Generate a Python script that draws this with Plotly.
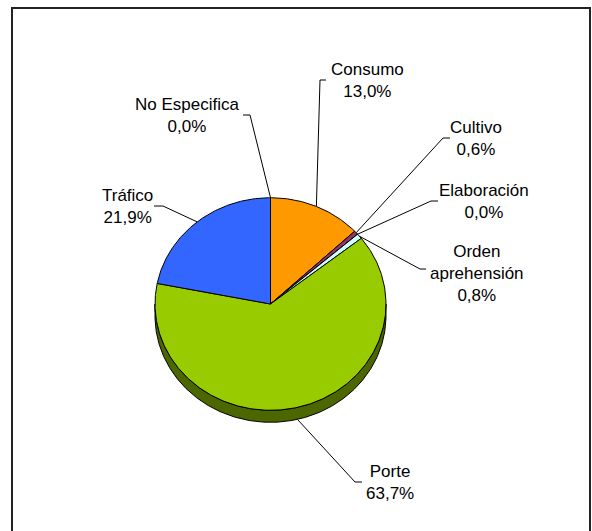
import numpy as np
import plotly.graph_objects as go

# ---------------- data ----------------
categories = ["Consumo", "Cultivo", "Elaboración", "Orden aprehensión",
              "Porte", "Tráfico", "No Especifica"]
values = [13.0, 0.6, 0.0, 0.8, 63.7, 21.9, 0.0]
colors = ["#FF9900", "#993366", "#FFFFCC", "#CCFFFF",
          "#99CC00", "#3366FF", "#FF99CC"]

# ---------------- layout (positions / styles) ----------------
W, H = 592, 531
CX, CY, RX, RY, DEPTH = 270.5, 304.0, 115.5, 106.3, 12
FONT = dict(family="Liberation Sans, Arial, sans-serif", size=17, color="black")
wrap = {"Orden aprehensión": "Orden<br>aprehensión"}
# center of each label block
label_pos = {
    "Consumo": (367, 80),
    "Cultivo": (476, 138),
    "Elaboración": (484, 201),
    "Orden aprehensión": (477, 273),
    "Porte": (390, 482),
    "Tráfico": (127, 206),
    "No Especifica": (187, 115),
}
# leader elbow (x, y) and end of short horizontal tick
elbow = {
    "Consumo": (320, 80, 326),
    "Cultivo": (443, 138, 450),
    "Elaboración": (431, 201, 438),
    "Orden aprehensión": (420, 269, 426),
    "Porte": (355, 482, 362),
    "Tráfico": (163, 206, 154),
    "No Especifica": (250, 115, 243),
}


def pt(theta_deg, dy=0.0):
    t = np.radians(theta_deg)
    return CX + RX * np.sin(t), CY - RY * np.cos(t) + dy


def darker(hexc, f=0.5):
    r, g, b = int(hexc[1:3], 16), int(hexc[3:5], 16), int(hexc[5:7], 16)
    return "#%02X%02X%02X" % (int(r * f), int(g * f), int(b * f))


total = sum(values)
cum = np.concatenate([[0], np.cumsum(values)]) / total * 360.0

fig = go.Figure()

# side (3D depth) of the lower half
for i, c in enumerate(colors):
    a0, a1 = max(cum[i], 90.0), min(cum[i + 1], 270.0)
    if a1 <= a0:
        continue
    th = np.linspace(a0, a1, max(3, int(a1 - a0) * 2))
    xt, yt = pt(th)
    xb, yb = pt(th[::-1], DEPTH)
    fig.add_trace(go.Scatter(
        x=np.concatenate([xt, xb, xt[:1]]), y=np.concatenate([yt, yb, yt[:1]]),
        mode="lines", fill="toself", fillcolor=darker(c),
        line=dict(color="black", width=1), hoverinfo="skip", showlegend=False))

# top faces
for i, (name, v, c) in enumerate(zip(categories, values, colors)):
    a0, a1 = cum[i], cum[i + 1]
    th = np.linspace(a0, a1, max(3, int((a1 - a0) * 2) + 2))
    xs, ys = pt(th)
    fig.add_trace(go.Scatter(
        x=np.concatenate([[CX], xs, [CX]]), y=np.concatenate([[CY], ys, [CY]]),
        mode="lines", fill="toself", fillcolor=c,
        line=dict(color="black", width=1), name=name,
        hoverinfo="text", text=f"{name}: {v:.1f}%".replace(".", ","),
        showlegend=False))

# leader lines and labels
for i, (name, v) in enumerate(zip(categories, values)):
    mid = (cum[i] + cum[i + 1]) / 2
    dy = DEPTH if np.cos(np.radians(mid)) < 0 else 0
    px, py = pt(mid, dy)
    ex, ey, hx = elbow[name]
    fig.add_trace(go.Scatter(
        x=[px, ex, hx], y=[py, ey, ey], mode="lines",
        line=dict(color="black", width=1), hoverinfo="skip", showlegend=False))
    txt = wrap.get(name, name) + "<br>" + f"{v:.1f}".replace(".", ",") + "%"
    lx, ly = label_pos[name]
    fig.add_annotation(x=lx, y=ly, text=txt, showarrow=False,
                       xanchor="center", yanchor="middle", font=FONT)

# chart frame
fig.add_shape(type="rect", x0=12, y0=8, x1=590, y1=560,
              line=dict(color="#222222", width=2), layer="below")

fig.update_layout(
    width=W, height=H, autosize=False,
    margin=dict(l=0, r=0, t=0, b=0),
    paper_bgcolor="white", plot_bgcolor="white",
    xaxis=dict(range=[0, W], visible=False, fixedrange=True),
    yaxis=dict(range=[H, 0], visible=False, fixedrange=True),
)

fig.write_html(
    "out.html",
    config={"displayModeBar": False},
    post_script="document.body.style.margin='0';document.body.style.overflow='hidden';",
)
